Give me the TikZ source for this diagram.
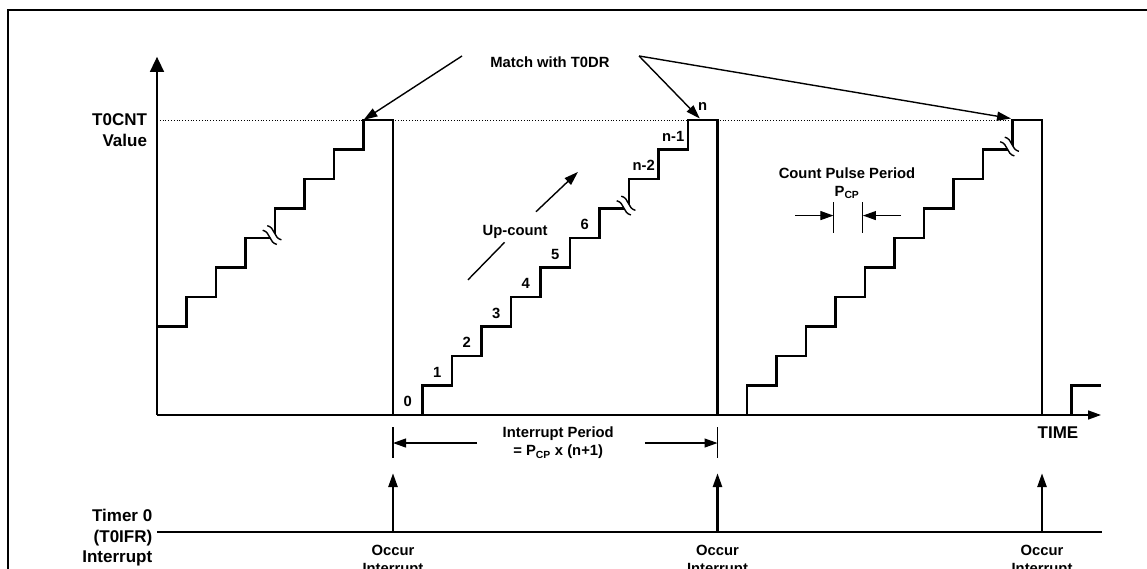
\documentclass[tikz,border=0pt]{standalone}
\usepackage{fontspec}
\setmainfont{Liberation Sans}
\usepackage{tikz}
\usetikzlibrary{arrows.meta, positioning, calc}
\newcommand{\lblfont}{\fontsize{14.8}{18}\selectfont\bfseries}
\newcommand{\axfont}{\fontsize{17}{20.5}\selectfont\bfseries}
\tikzset{
  frame/.style={line width=2.2pt},
  axis/.style={line width=1.5pt},
  stair/.style={line width=2.7pt},
  guide/.style={line width=0.8pt, dotted},
  pointer/.style={-{Triangle[length=14pt,width=9pt]}, line width=1.4pt},
  dimline/.style={-{Triangle[length=13pt,width=9pt]}, line width=1.1pt},
  tickline/.style={line width=1.1pt},
  irq/.style={-{Triangle[length=14pt,width=9pt]}, line width=2.6pt},
  lbl/.style={font=\lblfont, inner sep=1pt, align=center},
  axlbl/.style={font=\axfont, inner sep=1pt, align=right},
  brk/.style={line width=1.4pt}
}
\newcommand{\brkmark}[2]{%
  \begin{scope}[shift={({#1-0.1},{#2+0.1})}, rotate=-45]
    \draw[white, line width=5.5pt] (-0.34,0) .. controls (-0.1,0.15) and (0.1,-0.15) .. (0.34,0);
    \draw[brk] (-0.34,0.11) .. controls (-0.1,0.26) and (0.1,-0.04) .. (0.34,0.11);
    \draw[brk] (-0.34,-0.11) .. controls (-0.1,0.04) and (0.1,-0.26) .. (0.34,-0.11);
  \end{scope}}

\begin{document}
\begin{tikzpicture}[x=29.5pt, y=29.5pt]
  \useasboundingbox (-157pt,-154pt) rectangle (990pt,415pt);
  \draw[frame] (34,13.73) -- (-5.05,13.73) -- (-5.05,-6);

  \coordinate (O) at (0,0);
  \coordinate (ytop) at (0,12.14);
  \coordinate (xend) at (32,0);
  \draw[guide] (0,10) -- (29,10);
  \draw[axis, -{Triangle[length=15pt,width=14pt]}] (O) -- (ytop);
  \draw[axis, -{Triangle[length=13pt,width=9pt]}] (O) -- (xend);
  \node[axlbl, anchor=east] (cntlbl) at (-0.3,9.66) {T0CNT\\Value};
  \node[axlbl] (timelbl) at (30.54,-0.61) {TIME};

  \draw[stair] (0,3) foreach \k in {1,...,7} { -- ({\k},{\k+2}) -- ({\k},{\k+3}) } -- (8,10) -- (8,0)
    -- (9,0) foreach \k in {1,...,10} { -- ({\k+8},{\k-1}) -- ({\k+8},{\k}) } -- (19,10) -- (19,0)
    -- (20,0) foreach \k in {1,...,10} { -- ({\k+19},{\k-1}) -- ({\k+19},{\k}) } -- (30,10) -- (30,0)
    -- (31,0) -- (31,1) -- (32,1);
  \brkmark{4}{6}
  \brkmark{16}{7}
  \brkmark{29}{9}

  \foreach \k/\t in {0/0,1/1,2/2,3/3,4/4,5/5,6/6,8/n-2,9/n-1,10/n}
    \node[lbl] (v\k) at ({\k+8.5},{\k+0.45}) {\t};

  \node[lbl] (match) at (13.32,11.97) {Match with T0DR};
  \coordinate (mL) at (10.34,12.17);
  \coordinate (mR) at (16.34,12.17);
  \coordinate (hit1) at (7,10);
  \coordinate (hit2) at (18.4,10.05);
  \coordinate (hit3) at (28.95,10.05);
  \draw[pointer] (mL) -- (hit1);
  \draw[pointer] (mR) -- (hit2);
  \draw[pointer] (mR) -- (hit3);

  \node[lbl, inner sep=4pt] (upcnt) at (12.14,6.22) {Up-count};
  \coordinate (ucA) at (10.54,4.58);
  \coordinate (ucB) at (14.27,8.24);
  \draw[line width=1.4pt] (ucA) -- (upcnt);
  \draw[pointer, shorten <=13pt] (upcnt) -- (ucB);

  \node[lbl] (cpp) at (23.39,7.86) {Count Pulse Period\\P\textsubscript{CP}};
  \draw[tickline] (22.93,6.17) -- (22.93,7.22);
  \draw[tickline] (23.93,6.17) -- (23.93,7.22);
  \coordinate (cpL) at (21.63,6.76);
  \coordinate (cpLt) at (22.93,6.76);
  \coordinate (cpR) at (25.22,6.76);
  \coordinate (cpRt) at (23.93,6.76);
  \draw[dimline] (cpL) -- (cpLt);
  \draw[dimline] (cpR) -- (cpRt);

  \node[lbl] (iper) at (13.6,-0.95) {Interrupt Period\\= P\textsubscript{CP} x (n+1)};
  \draw[tickline] (8,-0.41) -- (8,-1.46);
  \draw[tickline] (19,-0.41) -- (19,-1.46);
  \coordinate (ipA) at (10.85,-0.95);
  \coordinate (ipL) at (8,-0.95);
  \coordinate (ipB) at (16.54,-0.95);
  \coordinate (ipR) at (19,-0.95);
  \draw[dimline] (ipA) -- (ipL);
  \draw[dimline] (ipB) -- (ipR);

  \coordinate (tl0) at (0,-3.96);
  \coordinate (tl1) at (32.03,-3.96);
  \draw[axis] (tl0) -- (tl1);
  \node[axlbl, anchor=east] (irqlbl) at (-0.12,-4.17) {Timer 0\\(T0IFR)\\Interrupt};
  \foreach \x [count=\i] in {8,19,30} {
    \coordinate (irqb\i) at (\x,-3.96);
    \coordinate (irqt\i) at (\x,-1.97);
    \draw[irq] (irqb\i) -- (irqt\i);
    \node[lbl, anchor=north] (occ\i) at (\x,-4.36) {Occur\\Interrupt};
  }
\end{tikzpicture}
\end{document}
